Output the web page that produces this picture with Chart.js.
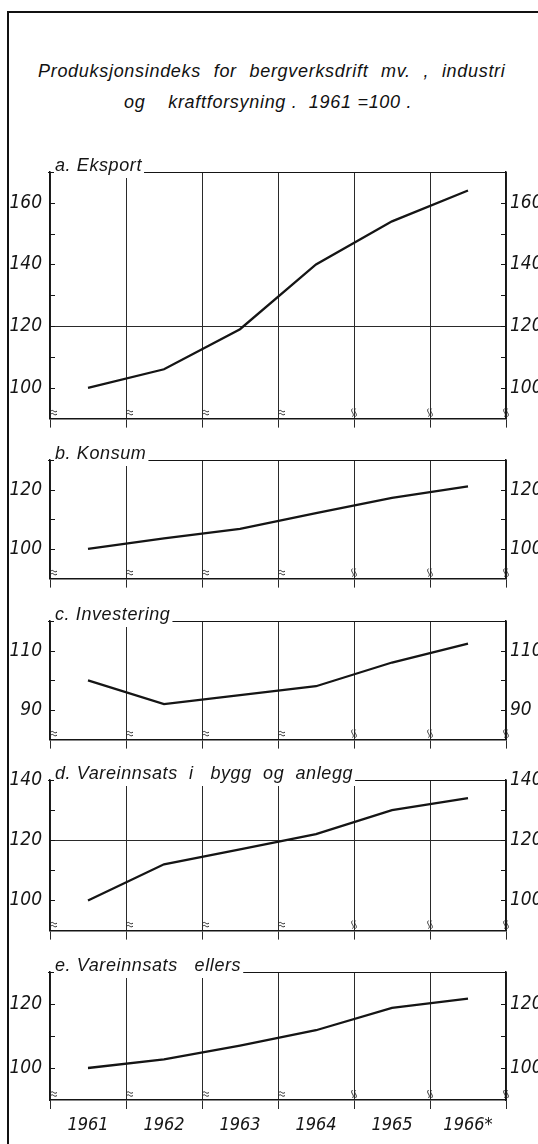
<!DOCTYPE html>
<html>
<head>
<meta charset="utf-8">
<script src="https://cdn.jsdelivr.net/npm/chart.js@4.4.1/dist/chart.umd.min.js"></script>
<style>
  body { margin: 0; background: #fff; width: 538px; height: 1144px; overflow: hidden; position: relative; }
  #frame { position: absolute; left: 7px; top: 11px; width: 600px; height: 1200px; border-left: 2px solid #111; border-top: 2px solid #111; }
  .title { position: absolute; font-family: "Liberation Sans", Arial, sans-serif; font-style: italic; font-size: 18px; line-height: 18px; letter-spacing: 0.7px; color: #111; white-space: pre; }
  canvas { position: absolute; left: 0; }
</style>
</head>
<body>
<div id="frame"></div>
<div class="title" style="left:38px; top:62px; word-spacing:7px">Produksjonsindeks for bergverksdrift mv. , industri</div>
<div class="title" style="left:124px; top:93px">og    kraftforsyning .  1961 =100 .</div>

<script>
const years = ["1961", "1962", "1963", "1964", "1965", "1966*"];

const eksport     = [100, 106, 119, 140, 154, 164];
const konsum      = [100, 103.6, 106.8, 112.1, 117.2, 121.1];
const investering = [100, 92, 95, 98, 106, 112.4];
const vareBygg    = [100, 112, 117, 122, 130, 134];
const vareEllers  = [100, 102.7, 107, 111.8, 118.8, 121.7];

// axis limits and the tick values that carry a number
const rangeA = [90, 170], ticksA = [100, 120, 140, 160];
const rangeB = [90, 130], ticksB = [100, 120];
const rangeC = [80, 120], ticksC = [90, 110];
const rangeD = [90, 140], ticksD = [100, 120, 140];
const rangeE = [90, 130], ticksE = [100, 120];

const INK = "#151515";
const PAD_TOP = 24;
const fontFamily = "'Liberation Sans Narrow', 'DejaVu Sans Condensed', 'Liberation Sans', sans-serif";
const tickFont = { family: fontFamily, style: "italic", size: 19 };
const yearFont = { family: fontFamily, style: "italic", size: 18 };

// small extras drawn on each panel: inward ticks, break marks, top line with the panel title
const panelDecor = {
    id: "panelDecor",
    afterDraw(chart, args, opts) {
        const { ctx, chartArea: a, scales } = chart;
        const y = scales.y;
        ctx.save();
        ctx.strokeStyle = INK;
        ctx.lineWidth = 1.2;

        y.ticks.forEach(t => {
            if (t.value <= y.min || t.value >= y.max) return;
            const py = Math.round(y.getPixelForValue(t.value)) + 0.5;
            ctx.beginPath();
            ctx.moveTo(a.left, py); ctx.lineTo(a.left + 5, py);
            ctx.moveTo(a.right - 5, py); ctx.lineTo(a.right, py);
            ctx.stroke();
        });

        const n = chart.data.labels.length;
        const by = a.bottom - 6;
        ctx.lineWidth = 0.9;
        for (let i = 0; i <= n; i++) {
            const px = a.left + (a.right - a.left) * i / n;
            ctx.beginPath();
            if (i < 4) {
                for (const dy of [-1.5, 1.5]) {
                    ctx.moveTo(px + 1, by + dy);
                    ctx.bezierCurveTo(px + 3, by + dy - 2.5, px + 4, by + dy + 2.5, px + 7, by + dy);
                }
            } else {
                for (const dx of [-1.5, 1.5]) {
                    ctx.moveTo(px + dx, by - 4);
                    ctx.bezierCurveTo(px + dx - 3, by - 1, px + dx + 3, by + 1, px + dx, by + 4);
                }
            }
            ctx.stroke();
        }

        ctx.font = "italic 18px 'Liberation Sans', Arial, sans-serif";
        ctx.letterSpacing = "0.6px";
        const tx = a.left + 5;
        const w = ctx.measureText(opts.title).width;
        ctx.fillStyle = "#fff";
        ctx.fillRect(tx - 1, a.top - 20, w + 3, 26);
        ctx.lineWidth = 1.2;
        ctx.beginPath();
        ctx.moveTo(a.left - 2, a.top + 0.5); ctx.lineTo(tx - 1, a.top + 0.5);
        ctx.moveTo(tx + w + 2, a.top + 0.5); ctx.lineTo(a.right, a.top + 0.5);
        ctx.stroke();
        ctx.fillStyle = INK;
        ctx.textBaseline = "alphabetic";
        ctx.fillText(opts.title, tx, a.top - 1);
        ctx.restore();
    }
};

function makePanel(title, values, range, shown, top, bottom, line120, last) {
    const xAxisH = last ? 44 : 10;
    const canvas = document.createElement("canvas");
    canvas.width = 538;
    canvas.height = PAD_TOP + (bottom - top) + xAxisH;
    canvas.style.top = (top - PAD_TOP) + "px";
    document.body.appendChild(canvas);

    const label = v => (shown.includes(v) ? String(v) : "");

    new Chart(canvas, {
        type: "line",
        data: {
            labels: years,
            datasets: [{
                data: values,
                borderColor: INK,
                borderWidth: 2.3,
                pointRadius: 0,
                tension: 0,
                fill: false,
            }],
        },
        options: {
            responsive: false,
            animation: false,
            layout: { padding: { top: PAD_TOP, left: 0, right: 0, bottom: 0 } },
            plugins: {
                legend: { display: false },
                tooltip: { enabled: false },
                panelDecor: { title: title },
            },
            scales: {
                x: {
                    type: "category",
                    offset: true,
                    grid: { offset: true, color: "#2a2a2a", lineWidth: 1, tickLength: 9, drawTicks: true },
                    border: { display: true, color: INK, width: 1.5 },
                    ticks: { display: last, font: yearFont, color: INK, padding: 6, maxRotation: 0, autoSkip: false },
                    afterFit: s => { s.height = xAxisH; },
                },
                y: {
                    position: "left",
                    min: range[0],
                    max: range[1],
                    ticks: { stepSize: 10, callback: label, font: tickFont, color: INK, padding: 8 },
                    grid: {
                        drawTicks: false,
                        lineWidth: 1,
                        color: ctx => (line120 && ctx.tick && ctx.tick.value === 120 ? "#2a2a2a" : "rgba(0,0,0,0)"),
                    },
                    border: { display: true, color: INK, width: 1.5 },
                    afterFit: s => { s.width = 50; },
                },
                y2: {
                    position: "right",
                    min: range[0],
                    max: range[1],
                    ticks: { stepSize: 10, callback: label, font: tickFont, color: INK, padding: 4 },
                    grid: { drawTicks: false, drawOnChartArea: false },
                    border: { display: true, color: INK, width: 1.5 },
                    afterFit: s => { s.width = 32; },
                },
            },
        },
        plugins: [panelDecor],
    });
}

makePanel("a. Eksport", eksport, rangeA, ticksA, 172, 428, true, false);
makePanel("b. Konsum", konsum, rangeB, ticksB, 460, 588, false, false);
makePanel("c. Investering", investering, rangeC, ticksC, 621, 749, false, false);
makePanel("d. Vareinnsats  i   bygg  og  anlegg", vareBygg, rangeD, ticksD, 780, 940, true, false);
makePanel("e. Vareinnsats   ellers", vareEllers, rangeE, ticksE, 972, 1100, false, true);
</script>
</body>
</html>
